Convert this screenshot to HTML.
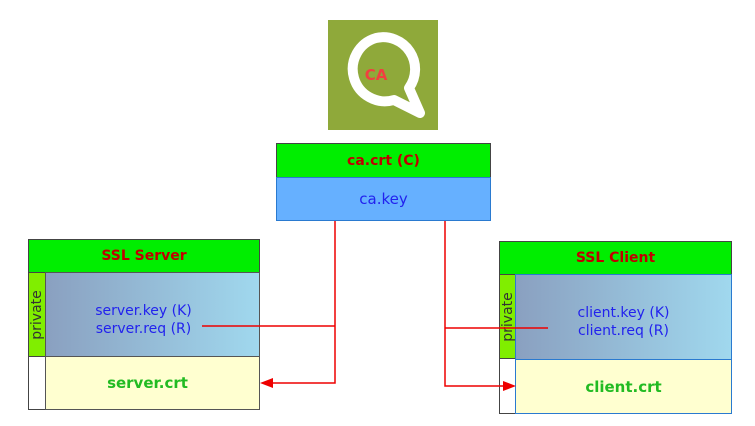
<!DOCTYPE html>
<html><head><style>
body{margin:0;width:755px;height:426px;background:#fff;position:relative;overflow:hidden;font-family:"DejaVu Sans","Liberation Sans",sans-serif}
div{position:absolute;box-sizing:border-box}
.c{display:flex;align-items:center;justify-content:center;text-align:center}
</style></head><body>
<div style="left:328px;top:20px;width:110px;height:110px;background:#8fa93a"></div>
<svg style="position:absolute;left:328px;top:20px" width="110" height="110">
<path d="M48 18 a32 32 0 1 0 18 62 l26 13 l-11 -25 a32 32 0 0 0 -33 -50z" fill="none" stroke="#fff" stroke-width="10" stroke-linejoin="round"/>
<text x="48" y="60" font-size="15" font-weight="bold" fill="#f04040" text-anchor="middle" font-family="DejaVu Sans">CA</text>
</svg>
<div class="c" style="left:276px;top:143px;width:215px;height:35px;background:#00ee00;border:1.5px solid #444;color:#c00000;font-weight:bold;font-size:14px">ca.crt (C)</div>
<div class="c" style="left:276px;top:177px;width:215px;height:44px;background:#66b0ff;border:1.5px solid #2a7ad0;color:#2222ee;font-size:15px">ca.key</div>

<div style="left:28px;top:239px;width:232px;height:171px;border:1.5px solid #444"></div>
<div class="c" style="left:28px;top:239px;width:232px;height:34px;background:#00ee00;border:1.5px solid #444;color:#c00000;font-weight:bold;font-size:14px">SSL Server</div>
<div class="c" style="left:28px;top:272px;width:18px;height:85px;background:#80ee00;border:1px solid #444"><span style="transform:rotate(-90deg);font-size:14px;color:#333;white-space:nowrap">private</span></div>
<div class="c" style="left:45px;top:272px;width:215px;height:85px;background:linear-gradient(90deg,#8aa0c0,#a0d8ee);border:1px solid #555;color:#2222ee;font-size:14px;line-height:18px;padding-top:10px;padding-right:18px">server.key (K)<br>server.req (R)</div>
<div class="c" style="left:45px;top:356px;width:215px;height:54px;background:#ffffd0;border:1px solid #555;color:#22bb22;font-weight:bold;font-size:15px;padding-right:10px">server.crt</div>

<div style="left:499px;top:241px;width:233px;height:173px;border:1.5px solid #444"></div>
<div class="c" style="left:499px;top:241px;width:233px;height:34px;background:#00ee00;border:1.5px solid #444;color:#c00000;font-weight:bold;font-size:14px">SSL Client</div>
<div class="c" style="left:499px;top:274px;width:17px;height:85px;background:#80ee00;border:1px solid #444"><span style="transform:rotate(-90deg);font-size:14px;color:#333;white-space:nowrap">private</span></div>
<div class="c" style="left:515px;top:274px;width:217px;height:86px;background:linear-gradient(90deg,#8aa0c0,#a0d8ee);border:1.5px solid #2a7ad0;color:#2222ee;font-size:14px;line-height:18px;padding-top:10px">client.key (K)<br>client.req (R)</div>
<div class="c" style="left:515px;top:359px;width:217px;height:55px;background:#ffffd0;border:1.5px solid #2a7ad0;color:#22bb22;font-weight:bold;font-size:15px">client.crt</div>

<svg style="position:absolute;left:0;top:0" width="755" height="426">
<g stroke="#ee0000" stroke-width="1.5" fill="none">
<polyline points="335,221 335,383 270,383"/>
<polyline points="202,326 335,326"/>
<polyline points="445,221 445,386 505,386"/>
<polyline points="445,328 548,328"/>
</g>
<polygon points="260,383 273,378 273,388" fill="#ee0000"/>
<polygon points="516,386 503,381 503,391" fill="#ee0000"/>
</svg>
</body></html>
